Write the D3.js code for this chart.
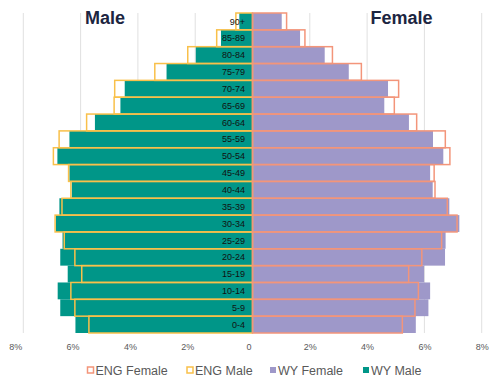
<!DOCTYPE html>
<html>
<head>
<meta charset="utf-8">
<script src="https://cdn.jsdelivr.net/npm/d3@7"></script>
<style>
  body { margin: 0; background: #fff; }
  svg { font-family: "Liberation Sans", Arial, sans-serif; }
</style>
</head>
<body>
<svg width="500" height="386"></svg>
<script>
// age groups, top to bottom
var ages = ['90+','85-89','80-84','75-79','70-74','65-69','60-64','55-59','50-54','45-49',
            '40-44','35-39','30-34','25-29','20-24','15-19','10-14','5-9','0-4'];
// percentages
var wyMale     = [0.46,1.10,1.98,3.00,4.46,4.61,5.50,6.39,6.81,6.39,6.31,6.74,6.86,6.63,6.71,6.45,6.80,6.71,6.18];
var engMale    = [0.58,1.25,2.26,3.41,4.81,4.83,5.79,6.75,6.95,6.42,6.34,6.65,6.89,6.57,6.20,5.96,6.34,6.20,5.71];
var wyFemale   = [1.02,1.66,2.52,3.36,4.73,4.60,5.46,6.30,6.66,6.20,6.29,6.87,7.22,6.74,6.72,5.99,6.20,6.14,5.70];
var engFemale  = [1.19,1.83,2.79,3.80,5.10,4.95,5.73,6.73,6.89,6.34,6.37,6.80,7.14,6.60,5.91,5.45,5.79,5.67,5.23];
var xTicks = [-8,-6,-4,-2,0,2,4,6,8];
var legendItems = ['ENG Female','ENG Male','WY Female','WY Male'];

var colWyMale = '#009688', colWyFemale = '#9e98c9';
var colEngMale = '#f9c04a', colEngFemale = '#f3957a';

var svg = d3.select('svg');

var x = d3.scaleLinear().domain([-8, 8]).range([23.3, 481.7]);
var y = d3.scaleBand().domain(ages).range([13, 333]).padding(0);

// gridlines
svg.append('g').selectAll('line')
  .data(xTicks)
  .enter()
  .append('line')
  .attr('x1', function(d){ return x(d); })
  .attr('x2', function(d){ return x(d); })
  .attr('y1', 13)
  .attr('y2', 333)
  .attr('stroke', '#e0e0e0')
  .attr('stroke-width', 1);

// WY bars
var bars = svg.append('g');
bars.selectAll('rect.wym')
  .data(ages)
  .enter()
  .append('rect')
  .attr('class', 'wym')
  .attr('x', function(d, i){ return x(-wyMale[i]); })
  .attr('width', function(d, i){ return x(0) - x(-wyMale[i]); })
  .attr('y', function(d){ return y(d); })
  .attr('height', y.bandwidth())
  .attr('fill', colWyMale);

bars.selectAll('rect.wyf')
  .data(ages)
  .enter()
  .append('rect')
  .attr('class', 'wyf')
  .attr('x', x(0))
  .attr('width', function(d, i){ return x(wyFemale[i]) - x(0); })
  .attr('y', function(d){ return y(d); })
  .attr('height', y.bandwidth())
  .attr('fill', colWyFemale);

// ENG outlines
var outlines = svg.append('g');
outlines.selectAll('rect.engm')
  .data(ages)
  .enter()
  .append('rect')
  .attr('class', 'engm')
  .attr('x', function(d, i){ return x(-engMale[i]); })
  .attr('width', function(d, i){ return x(0) - x(-engMale[i]); })
  .attr('y', function(d){ return y(d); })
  .attr('height', y.bandwidth())
  .attr('fill', 'none')
  .attr('stroke', colEngMale)
  .attr('stroke-width', 1.5);

outlines.selectAll('rect.engf')
  .data(ages)
  .enter()
  .append('rect')
  .attr('class', 'engf')
  .attr('x', x(0))
  .attr('width', function(d, i){ return x(engFemale[i]) - x(0); })
  .attr('y', function(d){ return y(d); })
  .attr('height', y.bandwidth())
  .attr('fill', 'none')
  .attr('stroke', colEngFemale)
  .attr('stroke-width', 1.5);

// age labels
svg.append('g').selectAll('text')
  .data(ages)
  .enter()
  .append('text')
  .attr('x', 245)
  .attr('y', function(d){ return y(d) + y.bandwidth() / 2; })
  .attr('dy', '0.35em')
  .attr('text-anchor', 'end')
  .attr('font-size', 9)
  .attr('fill', '#111')
  .text(function(d){ return d; });

// x axis labels
var axis = d3.axisBottom(x)
  .tickValues(xTicks)
  .tickSize(0)
  .tickFormat(function(d){ return d === 0 ? '0' : Math.abs(d) + '%'; });
var gx = svg.append('g')
  .attr('transform', 'translate(0,341)')
  .call(axis);
gx.select('.domain').remove();
gx.selectAll('text')
  .attr('font-size', 9)
  .attr('font-family', '"Liberation Sans", Arial, sans-serif')
  .attr('fill', '#595959')
  .attr('dx', function(d){ return d < 0 ? -8 : (d === 0 ? -4 : 0); });

// titles
svg.append('text')
  .attr('x', 85).attr('y', 24)
  .attr('font-size', 18).attr('font-weight', 'bold')
  .attr('fill', '#1c2541')
  .text('Male');
svg.append('text')
  .attr('x', 370.5).attr('y', 24)
  .attr('font-size', 18).attr('font-weight', 'bold')
  .attr('fill', '#1c2541')
  .text('Female');

// legend
var legendX = [87.5, 187, 270, 363];
var lg = svg.append('g').selectAll('g')
  .data(legendItems)
  .enter()
  .append('g')
  .attr('transform', function(d, i){ return 'translate(' + legendX[i] + ',367)'; });

lg.append('rect')
  .attr('width', 6)
  .attr('height', 6)
  .attr('fill', function(d, i){ return i === 2 ? colWyFemale : (i === 3 ? colWyMale : '#fff'); })
  .attr('stroke', function(d, i){ return [colEngFemale, colEngMale, colWyFemale, colWyMale][i]; })
  .attr('stroke-width', function(d, i){ return i < 2 ? 1.5 : 0; });

lg.append('text')
  .attr('x', 8)
  .attr('y', 3)
  .attr('dy', '0.36em')
  .attr('font-size', 12.5)
  .attr('fill', '#595959')
  .text(function(d){ return d; });
</script>
</body>
</html>
